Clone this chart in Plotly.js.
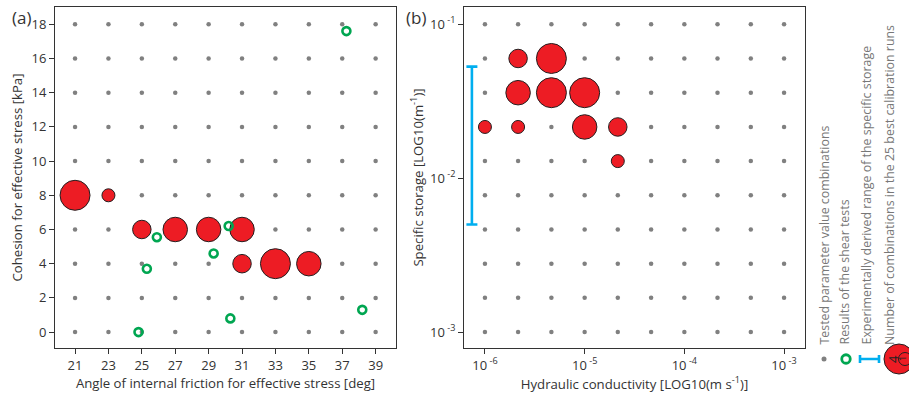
<!DOCTYPE html>
<html>
<head>
<meta charset="utf-8">
<script src="https://cdn.plot.ly/plotly-3.0.1.min.js"></script>
<style>html,body{margin:0;padding:0;background:#fff;}#chart{width:909px;height:393px;}</style>
</head>
<body>
<div id="chart"></div>
<script>
// ---------- DATA ----------
// Panel (a): tested parameter values
const phiValues = [21, 23, 25, 27, 29, 31, 33, 35, 37, 39];          // deg
const cohesionValues = [0, 2, 4, 6, 8, 10, 12, 14, 16, 18];          // kPa
// Panel (a): combinations in the 25 best runs
const bestPhi = [21, 23, 25, 27, 29, 31, 31, 33, 35];
const bestCoh = [8, 8, 6, 6, 6, 6, 4, 4, 4];
const bestCountA = [4, 1, 2, 3, 3, 3, 2, 4, 3];
// Panel (a): shear test results
const shearPhi = [37.25, 25.9, 30.2, 29.3, 25.3, 24.8, 30.3, 38.2];
const shearCoh = [17.6, 5.55, 6.2, 4.6, 3.7, 0.0, 0.8, 1.3];

// Panel (b): tested parameter values
const kValues = [1e-6, 2.15e-6, 4.64e-6, 1e-5, 2.15e-5, 4.64e-5, 1e-4, 2.15e-4, 4.64e-4, 1e-3];       // m/s
const ssValues = [0.1, 0.0599, 0.0359, 0.0215, 0.0129, 0.00774, 0.00464, 0.00278, 0.00167, 0.001]; // 1/m
// Panel (b): combinations in the 25 best runs
const bestK = [2.15e-6, 4.64e-6, 2.15e-6, 4.64e-6, 1e-5, 1e-6, 2.15e-6, 1e-5, 2.15e-5, 2.15e-5];
const bestSs = [0.0599, 0.0599, 0.0359, 0.0359, 0.0359, 0.0215, 0.0215, 0.0215, 0.0215, 0.0129];
const bestCountB = [2, 4, 3, 4, 4, 1, 1, 3, 2, 1];
// Panel (b): experimentally derived range of specific storage
const ssRangeX = 7.4e-7;
const ssRange = [0.005, 0.053];

// Tick labels
const phiTicks = [21, 23, 25, 27, 29, 31, 33, 35, 37, 39];
const cohTicks = [0, 2, 4, 6, 8, 10, 12, 14, 16, 18];
const kTickVals = [1e-6, 1e-5, 1e-4, 1e-3];
const kTickText = ['10<sup> -6</sup>', '10<sup> -5</sup>', '10<sup> -4</sup>', '10<sup> -3</sup>'];
const ssTickVals = [0.1, 0.01, 0.001];
const ssTickText = ['10<sup> -1</sup>', '10<sup> -2</sup>', '10<sup> -3</sup>'];

const legendTexts = [
  'Tested parameter value combinations',
  'Results of the shear tests',
  'Experimentally derived range of the specific storage',
  'Number of combinations in the 25 best calibration runs'
];
const legendCounts = [4, 1];

// ---------- STYLE ----------
const FONT = 'Open Sans, sans-serif';
const GRAY = '#808080';
const RED = '#ed1c24';
const GREEN = '#00a651';
const BLUE = '#00aeef';
const AXC = '#333333';
const sizeFor = n => ({1: 13, 2: 18.5, 3: 24.5, 4: 30}[n]);

function grid(xs, ys) {
  const gx = [], gy = [];
  ys.forEach(y => xs.forEach(x => { gx.push(x); gy.push(y); }));
  return {gx, gy};
}
const gA = grid(phiValues, cohesionValues);
const gB = grid(kValues, ssValues);

const bubbleMarker = counts => ({
  color: RED, size: counts.map(sizeFor), sizemode: 'diameter', opacity: 1,
  line: {color: '#231f20', width: 1}
});

const traces = [
  {x: gA.gx, y: gA.gy, type: 'scatter', mode: 'markers', xaxis: 'x', yaxis: 'y',
   marker: {color: GRAY, size: 4.5, opacity: 1}, hoverinfo: 'skip'},
  {x: bestPhi, y: bestCoh, type: 'scatter', mode: 'markers', xaxis: 'x', yaxis: 'y',
   marker: bubbleMarker(bestCountA)},
  {x: shearPhi, y: shearCoh, type: 'scatter', mode: 'markers', xaxis: 'x', yaxis: 'y',
   marker: {symbol: 'circle-open', color: GREEN, size: 8, opacity: 1, line: {color: GREEN, width: 2.6}}},

  {x: gB.gx, y: gB.gy, type: 'scatter', mode: 'markers', xaxis: 'x2', yaxis: 'y2',
   marker: {color: GRAY, size: 4.5, opacity: 1}, hoverinfo: 'skip'},
  {x: [ssRangeX], y: [ssRange[0]], type: 'scatter', mode: 'markers', xaxis: 'x2', yaxis: 'y2',
   marker: {size: 1, opacity: 0},
   error_y: {type: 'data', symmetric: false, array: [ssRange[1] - ssRange[0]], arrayminus: [0],
             color: BLUE, thickness: 2.6, width: 5.5}},
  {x: bestK, y: bestSs, type: 'scatter', mode: 'markers', xaxis: 'x2', yaxis: 'y2',
   marker: bubbleMarker(bestCountB)},

  // legend symbols (own hidden axis, units = pixels)
  {x: [824], y: [359], type: 'scatter', mode: 'markers', xaxis: 'x3', yaxis: 'y3',
   marker: {color: GRAY, size: 5, opacity: 1}, cliponaxis: false},
  {x: [846], y: [359], type: 'scatter', mode: 'markers', xaxis: 'x3', yaxis: 'y3',
   marker: {symbol: 'circle-open', color: GREEN, size: 8.5, opacity: 1, line: {color: GREEN, width: 2.8}}, cliponaxis: false},
  {x: [860], y: [359], type: 'scatter', mode: 'markers', xaxis: 'x3', yaxis: 'y3',
   marker: {size: 1, opacity: 0}, cliponaxis: false,
   error_x: {type: 'data', symmetric: false, array: [19], arrayminus: [0], color: BLUE, thickness: 2.6, width: 4}},
  {x: [899, 905], y: [359, 359], type: 'scatter', mode: 'markers', xaxis: 'x3', yaxis: 'y3',
   marker: bubbleMarker(legendCounts), cliponaxis: false}
];

const TF = {family: FONT, size: 13.2, color: AXC};
const axisBase = {
  showline: true, mirror: true, linecolor: AXC, linewidth: 1,
  ticks: 'outside', ticklen: 5, tickcolor: AXC, tickwidth: 1,
  showgrid: false, zeroline: false,
  tickfont: {family: FONT, size: 13, color: AXC}
};
const yTop = 1 - 7 / 393, yBot = 1 - 348 / 393;

const layout = {
  width: 909, height: 393,
  margin: {l: 0, r: 0, t: 0, b: 0},
  paper_bgcolor: '#fff', plot_bgcolor: '#fff',
  showlegend: false,
  font: {family: FONT, color: AXC},
  xaxis: Object.assign({}, axisBase, {
    domain: [55 / 909, 396 / 909], range: [19.8, 40.22],
    tickvals: phiTicks, anchor: 'y',
    title: {text: 'Angle of internal friction for effective stress [deg]', standoff: 6, font: TF}
  }),
  yaxis: Object.assign({}, axisBase, {
    domain: [yBot, yTop], range: [-0.93, 19.01],
    tickvals: cohTicks, anchor: 'x',
    title: {text: 'Cohesion for effective stress [kPa]', standoff: 5, font: TF}
  }),
  xaxis2: Object.assign({}, axisBase, {
    domain: [464 / 909, 805 / 909], type: 'log', range: [-6.21, -2.79],
    tickvals: kTickVals, ticktext: kTickText, anchor: 'y2',
    title: {text: 'Hydraulic conductivity [LOG10(m s<sup>-1</sup>)]', standoff: 6, font: TF}
  }),
  yaxis2: Object.assign({}, axisBase, {
    domain: [yBot, yTop], type: 'log', range: [-3.104, -0.888],
    tickvals: ssTickVals, ticktext: ssTickText, anchor: 'x2',
    title: {text: 'Specific storage [LOG10(m<sup>-1</sup>)]', standoff: 3, font: TF}
  }),
  xaxis3: {domain: [805 / 909, 1], range: [805, 909], visible: false, fixedrange: true, anchor: 'y3'},
  yaxis3: {domain: [0, yBot], range: [393, 348], visible: false, fixedrange: true, anchor: 'x3'},
  annotations: [
    {text: '(a)', xref: 'paper', yref: 'paper', x: 21 / 909, y: 1 - 17 / 393,
     xanchor: 'center', yanchor: 'middle', showarrow: false, font: {family: FONT, size: 17, color: AXC}},
    {text: '(b)', xref: 'paper', yref: 'paper', x: 416 / 909, y: 1 - 18 / 393,
     xanchor: 'center', yanchor: 'middle', showarrow: false, font: {family: FONT, size: 17, color: AXC}}
  ].concat(legendTexts.map((t, i) => ({
    text: t, xref: 'paper', yref: 'paper', x: [824, 844, 866, 889][i] / 909, y: (393 - 347) / 393,
    xanchor: 'center', yanchor: 'bottom', textangle: -90, showarrow: false,
    font: {family: FONT, size: 12.4, color: '#777'}
  }))).concat(legendCounts.map((n, i) => ({
    text: String(n), xref: 'x3', yref: 'y3', x: [893, 902][i], y: 359,
    xanchor: 'center', yanchor: 'middle', textangle: -90, showarrow: false,
    font: {family: FONT, size: [13, 9][i], color: '#222'}
  })))
};

Plotly.newPlot('chart', traces, layout, {displayModeBar: false, staticPlot: true});
</script>
</body>
</html>
